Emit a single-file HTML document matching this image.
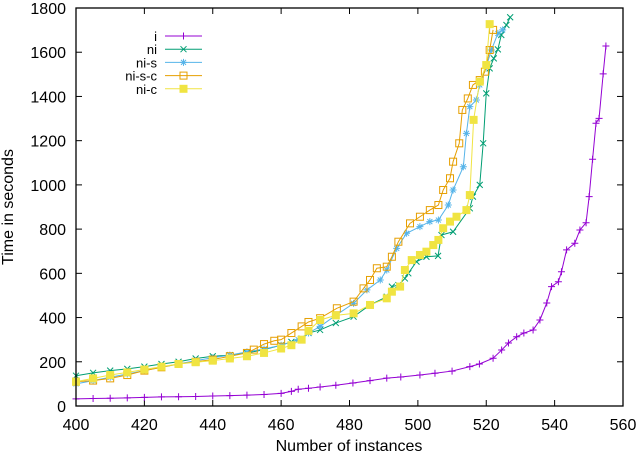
<!DOCTYPE html>
<html><head><meta charset="utf-8"><style>
html,body{margin:0;padding:0;background:#fff}
svg{display:block;font-family:"Liberation Sans",sans-serif}
</style></head><body>
<svg id="chart" width="640" height="456"></svg>
<script>
const xTicks=[400,420,440,460,480,500,520,540,560];
const yTicks=[0,200,400,600,800,1000,1200,1400,1600,1800];
const seriesNames=["i","ni","ni-s","ni-s-c","ni-c"];
const seriesColors=["#9400d3","#009e73","#56b4e9","#e69f00","#f0e442"];
const iX=[400,405,410,415,420,425,430,435,440,445,450,455,460,463,465,468,471.4,476,481,486,490.9,495,500.6,505,510,515.2,518,522,524.5,526.5,528.9,531,533.7,535.7,537.7,539.1,541.1,542,543.5,545.9,547.4,549.2,550.1,551.1,552.1,553,554.2,555];
const iY=[32,34,35,37,39,41,42,43,45,47,49,52,57,66,76,80,86,94,104,115,126,131,140,148,158,178,190,216,253,285,313,330,344,389,466,540,562,607,706,736,796,829,947,1116,1279,1301,1502,1628];
const niX=[400,405,410,415,420,425,430,435,440,445,450,455,460,463,466,468,471.4,476,481.2,486,490.9,492.4,494.3,496.2,497.2,499.6,502.5,505.9,506.9,510.3,515.2,516.1,518.1,519.1,520,521,522.2,523.4,524.4,525.9,527];
const niY=[137,150,160,168,178,190,200,215,225,230,240,255,275,290,305,330,344,375,404,457,494,540,547,577,600,653,675,679,773,788,894,947,1000,1188,1414,1527,1572,1613,1678,1723,1758];
const nisX=[400,405,410,415,420,425,430,435,440,445,450,455,460,465,468,471.4,476,481.2,485.1,489,490.9,493.8,496.7,500.6,503.5,506,508.9,510.3,513.3,514.2,515.2,517.1,518.1,520,521.5,523.4,524.8];
const nisY=[100,115,130,145,160,175,190,205,218,230,245,258,275,300,330,360,410,464,525,570,615,713,781,811,834,841,909,977,1082,1233,1354,1384,1452,1535,1610,1685,1701];
const niscX=[400,405,410,415,420,425,430,435,440,445,450,452,455,458,460,463,466,468,471.4,476.3,481.2,484.1,486,488,490.9,492.4,494.3,497.7,500.6,503.5,506,507.4,509.4,510.3,512.1,513,514.6,516.1,518.1,519.6,521,522];
const niscY=[110,115,125,140,160,175,190,200,210,225,240,255,280,295,300,330,360,380,397,442,472,532,570,623,630,675,743,826,856,886,909,977,1030,1105,1188,1339,1391,1452,1474,1512,1610,1701];
const nicX=[400,405,410,415,420,425,430,435,440,445,450,455,460,463,466,468,471.4,476,481.2,486,490.9,492.4,494.8,496.2,498.2,500.6,502.5,504.5,506,507.4,509.4,511.3,514.2,515.2,516.3,518.1,520,521];
const nicY=[110,125,140,152,165,178,190,198,205,215,225,240,260,275,300,340,389,410,419,457,487,517,540,615,660,683,698,728,751,804,834,856,886,954,1294,1467,1542,1727];

const L=76,R=623,T=8,B=406;
const sx=v=>L+(v-400)/160*(R-L);
const sy=v=>B-v/1800*(B-T);
const NS="http://www.w3.org/2000/svg";
const svg=document.getElementById('chart');
function mk(tag,attrs,parent){const e=document.createElementNS(NS,tag);for(const k in attrs)e.setAttribute(k,attrs[k]);(parent||svg).appendChild(e);return e;}

// ticks & labels
xTicks.forEach(t=>{
  const x=sx(t);
  mk('line',{x1:x,x2:x,y1:B,y2:B-6,stroke:'#000','stroke-width':1});
  mk('line',{x1:x,x2:x,y1:T,y2:T+6,stroke:'#000','stroke-width':1});
  const tx=mk('text',{x:x,y:430,'text-anchor':'middle','font-size':16,fill:'#000'});
  tx.textContent=t;
  
  
});
yTicks.forEach(t=>{
  const y=sy(t);
  mk('line',{x1:L,x2:L+6,y1:y,y2:y,stroke:'#000','stroke-width':1});
  mk('line',{x1:R,x2:R-6,y1:y,y2:y,stroke:'#000','stroke-width':1});
  const tx=mk('text',{x:66,y:y+6,'text-anchor':'end','font-size':16,fill:'#000'});
  tx.textContent=t;
  
  
});
const xt=mk('text',{x:349,y:451,'text-anchor':'middle','font-size':16,fill:'#000'});
xt.textContent='Number of instances';


const yt=mk('text',{x:0,y:0,'text-anchor':'middle','font-size':16,fill:'#000',transform:'translate(13,207) rotate(-90)'});
yt.textContent='Time in seconds';



function marker(g,i,x,y,c){
  if(i===0){mk('path',{d:`M${x-3.5} ${y}h7M${x} ${y-3.5}v7`,stroke:c,'stroke-width':1,fill:'none'},g);}
  else if(i===1){mk('path',{d:`M${x-3} ${y-3}l6 6M${x-3} ${y+3}l6 -6`,stroke:c,'stroke-width':1,fill:'none'},g);}
  else if(i===2){mk('path',{d:`M${x-3.5} ${y}h7M${x} ${y-3.5}v7M${x-2.5} ${y-2.5}l5 5M${x-2.5} ${y+2.5}l5 -5`,stroke:c,'stroke-width':1,fill:'none'},g);}
  else if(i===3){mk('rect',{x:x-3.5,y:y-3.5,width:7,height:7,stroke:c,'stroke-width':1,fill:'none'},g);}
  else {mk('rect',{x:x-4,y:y-4,width:8,height:8,fill:c},g);}
}
const allX=[iX,niX,nisX,niscX,nicX], allY=[iY,niY,nisY,niscY,nicY];
const drawOrder=[0,1,2,3,4];
drawOrder.forEach(i=>{
  const g=mk('g',{});
  
  
  const xs=allX[i],ys=allY[i],c=seriesColors[i];
  mk('polyline',{points:xs.map((v,k)=>sx(v)+','+sy(ys[k])).join(' '),fill:'none',stroke:c,'stroke-width':1},g);
  xs.forEach((v,k)=>marker(g,i,sx(v),sy(ys[k]),c));
});
// legend
seriesNames.forEach((n,i)=>{
  const g=mk('g',{});
  
  
  const y=36+i*13.2;
  const t=mk('text',{x:157,y:y+5,'text-anchor':'end','font-size':13,fill:'#000'},g);
  t.textContent=n;
  mk('line',{x1:165,x2:202,y1:y,y2:y,stroke:seriesColors[i],'stroke-width':1},g);
  marker(g,i,183.5,y,seriesColors[i]);
});
const frame=mk('rect',{x:L,y:T,width:R-L,height:B-T,fill:'none',stroke:'#000','stroke-width':1.3});


</script>
</body></html>
